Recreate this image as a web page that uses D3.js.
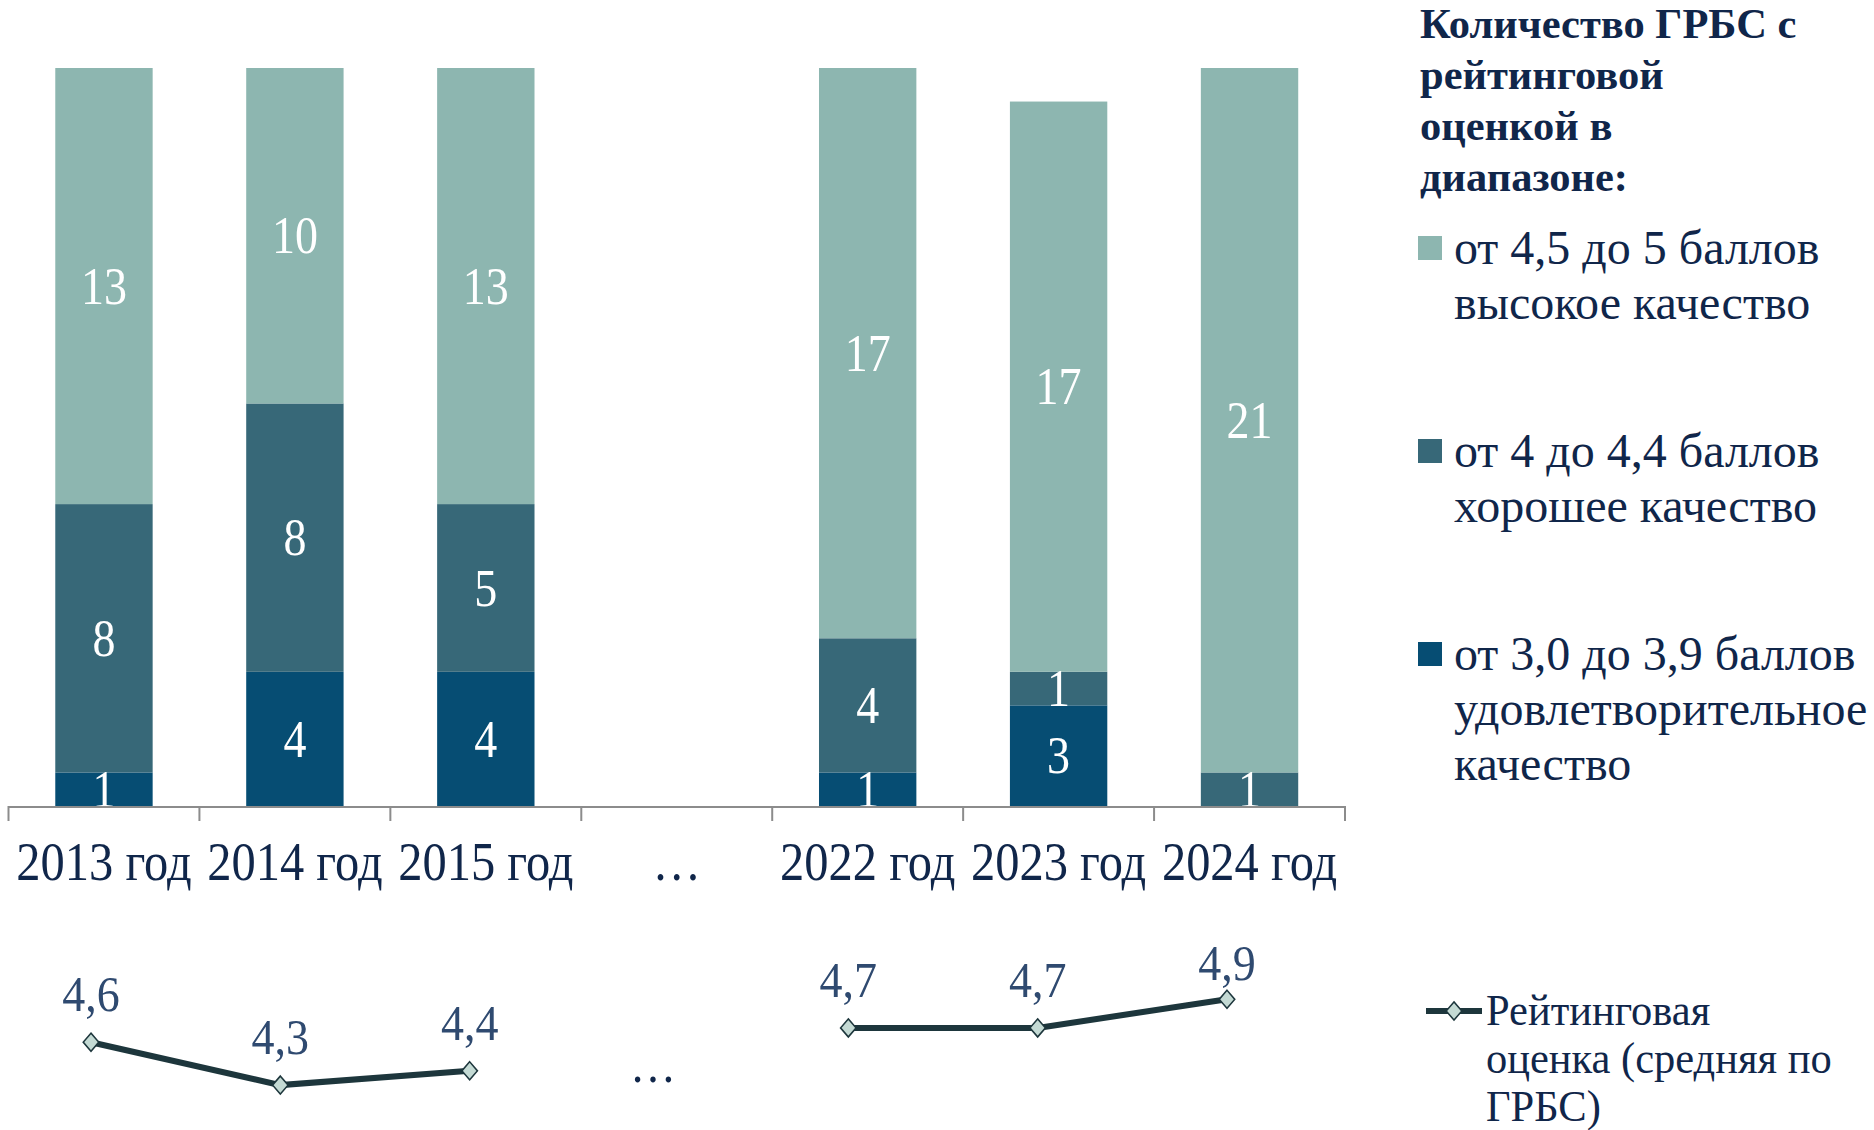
<!DOCTYPE html>
<html><head><meta charset="utf-8">
<script src="https://cdn.jsdelivr.net/npm/d3@7"></script>
<style>
html,body{margin:0;padding:0;background:#fff;}
svg{display:block;}
text{font-family:"Liberation Serif","Times New Roman",serif;}
</style></head>
<body>
<svg id="chart" width="1874" height="1130"></svg>
<script>
// ---- data ----
const categories = ["2013 год","2014 год","2015 год","…","2022 год","2023 год","2024 год"];
const highQuality = [13,10,13,null,17,17,21];      // от 4,5 до 5 баллов
const goodQuality = [8,8,5,null,4,1,1];            // от 4 до 4,4 баллов
const satisfactory = [1,4,4,null,1,3,0];           // от 3,0 до 3,9 баллов
const rating = [4.6,4.3,4.4,null,4.7,4.7,4.9];     // средняя рейтинговая оценка
const ratingLabels = ["4,6","4,3","4,4",null,"4,7","4,7","4,9"];
const seriesKeys = ["satisfactory","good","high"];
const seriesNames = {
  high: ["от 4,5 до 5 баллов","высокое качество"],
  good: ["от 4 до 4,4 баллов","хорошее качество"],
  satisfactory: ["от 3,0 до 3,9 баллов","удовлетворительное","качество"]
};
const legendTitle = ["Количество ГРБС с","рейтинговой","оценкой в","диапазоне:"];
const lineLegend = ["Рейтинговая","оценка (средняя по","ГРБС)"];

const colors = {high:"#8db6b0", good:"#376878", satisfactory:"#064d73"};
const navy = "#10264a";

const svg = d3.select("#chart");

const rows = categories.map((c,i)=>({cat:c, high:highQuality[i], good:goodQuality[i], satisfactory:satisfactory[i], gap: highQuality[i]==null}));
const dataRows = rows.filter(r=>!r.gap);

const x = d3.scaleBand().domain(categories).range([8.5,1345]).paddingInner(0.49).paddingOuter(0.245);
const y = d3.scaleLinear().domain([0,22]).range([806,68]);

const stack = d3.stack().keys(seriesKeys);
const stacked = stack(dataRows);

const gBars = svg.append("g");
stacked.forEach(layer=>{
  const key = layer.key;
  layer.forEach(seg=>{
    const v = seg[1]-seg[0];
    if(v<=0) return;
    gBars.append("rect")
      .attr("x", x(seg.data.cat))
      .attr("y", y(seg[1]))
      .attr("width", x.bandwidth())
      .attr("height", y(seg[0])-y(seg[1]))
      .attr("fill", colors[key]);
  });
});
// segment labels
stacked.forEach(layer=>{
  layer.forEach(seg=>{
    const v = seg[1]-seg[0];
    if(v<=0) return;
    const cx = x(seg.data.cat)+x.bandwidth()/2;
    const cy = (y(seg[0])+y(seg[1]))/2;
    gBars.append("text")
      .attr("transform",`translate(${cx},${cy}) scale(1,1.15)`)
      .attr("text-anchor","middle")
      .attr("dominant-baseline","central")
      .attr("font-size",46)
      .attr("fill","#fff")
      .text(v);
  });
});

// x axis
const gAxis = svg.append("g");
const [r0,r1] = x.range();
gAxis.append("line").attr("x1",r0).attr("x2",r1).attr("y1",y(0)+1).attr("y2",y(0)+1)
  .attr("stroke","#8c8c8c").attr("stroke-width",2);
const bounds = categories.map(c=>x(c)+x.bandwidth()/2-x.step()/2).concat([r1]);
bounds.forEach(b=>{
  gAxis.append("line").attr("x1",b).attr("x2",b).attr("y1",y(0)).attr("y2",y(0)+15)
    .attr("stroke","#8c8c8c").attr("stroke-width",2);
});
categories.forEach(c=>{
  gAxis.append("text")
    .attr("transform",`translate(${x(c)+x.bandwidth()/2},880) scale(1,1.12)`)
    .attr("text-anchor","middle")
    .attr("font-size",48.5)
    .attr("fill",navy)
    .text(c);
});

// rating line
const xl = d3.scalePoint().domain(categories).range([91,1227]);
const yl = d3.scaleLinear().domain([4,5]).range([1128,985]);
const lineData = categories.map((c,i)=>({cat:c, v:rating[i], label:ratingLabels[i]}));
const line = d3.line().defined(d=>d.v!=null).x(d=>xl(d.cat)).y(d=>yl(d.v));
svg.append("path").datum(lineData).attr("d",line)
  .attr("fill","none").attr("stroke","#1d363c").attr("stroke-width",6);
const diamond = d3.symbol().type(d3.symbolDiamond2).size(190);
const labelTop = 980; // labels cannot go above the plot area top
lineData.filter(d=>d.v!=null).forEach(d=>{
  svg.append("path").attr("d",diamond())
    .attr("transform",`translate(${xl(d.cat)},${yl(d.v)}) scale(0.9,1.05)`)
    .attr("fill","#c4dad4").attr("stroke","#1d363c").attr("stroke-width",1.6);
  svg.append("text")
    .attr("transform",`translate(${xl(d.cat)},${Math.max(yl(d.v)-31,labelTop)}) scale(1,1.12)`)
    .attr("text-anchor","middle")
    .attr("font-size",46)
    .attr("fill","#2f4a70")
    .text(d.label);
});
// gap ellipsis in line area
const gapCat = categories[3];
svg.append("text")
  .attr("transform",`translate(${xl(gapCat)-6},1082) scale(1,1.12)`)
  .attr("text-anchor","middle").attr("font-size",46).attr("fill",navy).text("…");

// legend
const gLeg = svg.append("g");
legendTitle.forEach((t,i)=>{
  gLeg.append("text").attr("x",1420).attr("y",38+i*51)
    .attr("font-size",42.5).attr("font-weight","bold").attr("fill",navy).text(t);
});
["high","good","satisfactory"].forEach((k,i)=>{
  const top = 236 + i*203;
  gLeg.append("rect").attr("x",1418).attr("y",top).attr("width",24).attr("height",24).attr("fill",colors[k]);
  seriesNames[k].forEach((t,j)=>{
    gLeg.append("text").attr("x",1454).attr("y",top+28+j*55)
      .attr("font-size",48).attr("fill",navy).text(t);
  });
});
// line legend
gLeg.append("line").attr("x1",1426).attr("x2",1482).attr("y1",1011).attr("y2",1011)
  .attr("stroke","#1d363c").attr("stroke-width",6);
gLeg.append("path").attr("d",diamond()).attr("transform","translate(1454,1011) scale(0.9,1.05)")
  .attr("fill","#c4dad4").attr("stroke","#1d363c").attr("stroke-width",1.6);
lineLegend.forEach((t,i)=>{
  gLeg.append("text").attr("transform",`translate(1486,${1025+i*48}) scale(1,1.05)`)
    .attr("font-size",42.5).attr("fill",navy).text(t);
});
</script>
</body></html>
